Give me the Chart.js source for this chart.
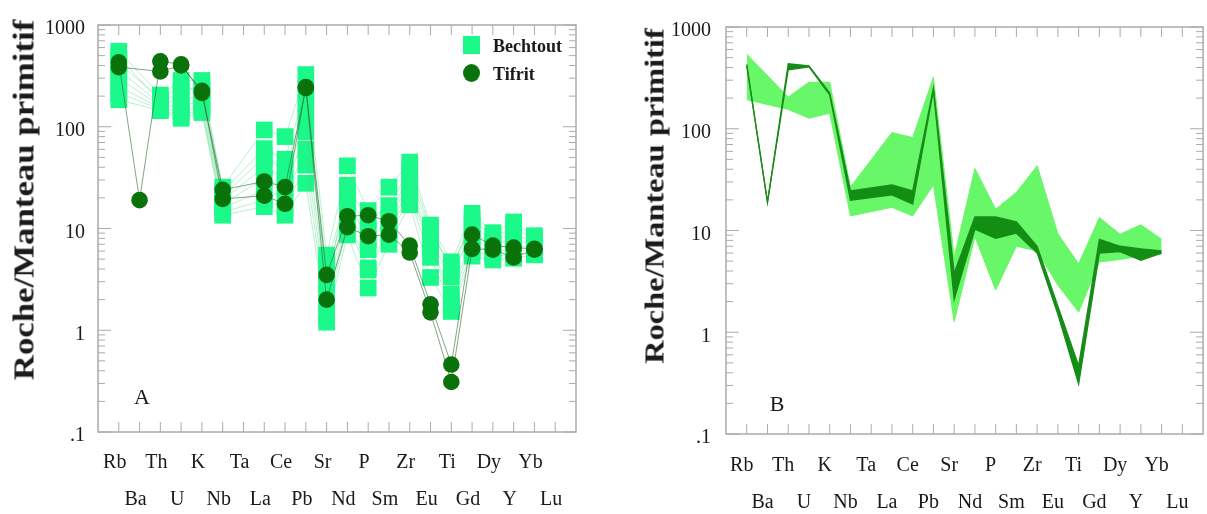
<!DOCTYPE html>
<html>
<head>
<meta charset="utf-8">
<script src="https://cdn.jsdelivr.net/npm/chart.js@4.4.1/dist/chart.umd.min.js"></script>
<style>
  body { margin: 0; background: #fff; overflow: hidden; }
  #wrap { position: relative; width: 1207px; height: 514px; background: #fff; font-family: 'Liberation Serif', 'Times New Roman', serif; color: #1a1a1a; }
  .panel { position: absolute; top: 0; height: 514px; }
  .ytitle { position: absolute; white-space: nowrap; font-weight: bold; transform-origin: center center; }
  .letter { position: absolute; font-size: 22px; transform: translate(-50%, -50%); }
  .legend-text { position: absolute; font-size: 18px; font-weight: bold; transform: translateY(-50%); }
</style>
</head>
<body>
<div id="wrap">
  <div class="panel" style="left:0;width:600px"><canvas id="chartA"></canvas></div>
  <div class="panel" style="left:620px;width:587px"><canvas id="chartB"></canvas></div>

  <div class="ytitle" style="left:24px;top:200px;font-size:29px;transform:translate(-50%,-50%) rotate(-90deg) scaleX(1.2)">Roche/Manteau primitif</div>
  <div class="ytitle" style="left:655px;top:196px;font-size:27px;transform:translate(-50%,-50%) rotate(-90deg) scaleX(1.2)">Roche/Manteau primitif</div>

  <div class="letter" style="left:142px;top:397px">A</div>
  <div class="letter" style="left:777px;top:404px">B</div>

  <div style="position:absolute;left:463px;top:36px;width:17px;height:18px;background:#1bf98b"></div>
  <div class="legend-text" style="left:493px;top:46px">Bechtout</div>
  <div style="position:absolute;left:463px;top:64px;width:17px;height:18px;border-radius:50%;background:#0a720a"></div>
  <div class="legend-text" style="left:493px;top:74px">Tifrit</div>
</div>

<script>
// Elements (spider diagram order) and axis ticks
const elements = ['Rb', 'Ba', 'Th', 'U', 'K', 'Nb', 'Ta', 'La', 'Ce', 'Pb', 'Sr', 'Nd', 'P', 'Sm', 'Zr', 'Eu', 'Ti', 'Gd', 'Dy', 'Y', 'Yb', 'Lu'];
const yTickValues = [0.1, 1, 10, 100, 1000];
const yTickLabels = ['.1', '1', '10', '100', '1000'];

// Panel A - Bechtout samples
const bechtout1 = [552, null, 205, 285, 285, 25.5, null, 93, 80, 326, 5.46, 41.3, 15, 25.5, 45, 10.8, 4.7, 14.1, 9.1, 11.6, 8.5, null];
const bechtout2 = [480, null, 178, 215, 255, 23, null, 61, 48, 235, 2.83, 26.6, 12.1, 16.8, 38, 10.0, 3.9, 12.3, 8.3, 10.1, 7.9, null];
const bechtout3 = [420, null, 190, 250, 225, 21, null, 50, 38.5, 169, 4.39, 22.2, 9.6, 13.5, 33, 9.1, 4.3, 10.8, 7.6, 8.9, 7.3, null];
const bechtout4 = [360, null, 168, 185, 200, 19, null, 40.5, 31, 122, 3.52, 18.7, 7.8, 12.1, 28, 7.6, 3.35, 9.4, 6.9, 7.9, 6.8, null];
const bechtout5 = [300, null, 160, 160, 180, 17.5, null, 31, 24.9, 89, 2.27, 15.6, 6.2, 10.8, 25, 6.8, 2.27, 8.2, 6.3, 7.0, 6.3, null];
const bechtout6 = [250, null, 152, 140, 160, 16, null, 23.8, 19.9, 60, 1.82, 12.9, 4.1, 9.7, 22, 6.3, 2.0, 7.1, 5.8, 6.2, 5.9, null];
const bechtout7 = [215, null, 148, 128, 148, 14.5, null, 19, 15.9, 42, 1.46, 10.6, 3.9, 8.7, 19.5, 5.2, 1.75, 6.1, 5.3, 5.6, 5.6, null];
const bechtout8 = [184, null, 144, 121, 138, 13.5, null, 16.4, 13.5, 27.8, 1.2, 8.66, 2.6, 7.0, 17.1, 3.3, 1.53, 5.35, 4.9, 5.1, 5.5, null];

// Panel A - Tifrit samples
const tifrit1 = [430, 19, 440, 410, 215, 24, null, 29, 25.5, 240, 3.5, 13.2, 13.5, 11.8, 6.8, 1.8, 0.46, 8.7, 6.8, 6.5, 6.3, null];
const tifrit2 = [385, null, 350, 400, 225, 19.5, null, 21, 17.5, 245, 2.0, 10.3, 8.4, 8.7, 5.8, 1.5, 0.31, 6.3, 6.2, 5.2, 6.2, null];

// Panel B - envelopes (max / min)
const bechtoutMax = [541, null, 205, 287, 287, 26.8, null, 91.7, 82, 320, 5.5, 40.7, 16.2, 23.7, 43.3, 9.3, 4.7, 13.4, 9.2, 11.4, 8.2, null];
const bechtoutMin = [193, null, 155, 127, 142, 13.9, null, 16.9, 13.9, 28, 1.27, 8.7, 2.6, 7.0, 6.3, 2.9, 1.58, 4.9, 5.2, 5.6, 5.9, null];
const tifritMax = [430, 19, 435, 415, 225, 24.5, null, 28, 24.5, 250, 3.8, 13.6, 13.6, 12.2, 7.0, 1.8, 0.47, 8.2, 7.0, 6.6, 6.3, null];
const tifritMin = [415, 19, 380, 405, 215, 19.8, null, 22.4, 18.2, 240, 2.1, 10.3, 8.4, 9.4, 6.0, 1.5, 0.31, 6.0, 6.2, 5.1, 6.0, null];

const BECHTOUT = '#1bf98b';
const TIFRIT = '#0a720a';
const SERIF = "'Liberation Serif', 'Times New Roman', serif";

function toPoints(values) {
    return values.map((v, i) => ({ x: i, y: v })).filter(p => p.y !== null);
}

// frame with inward ticks on all four sides
const framePlugin = {
    id: 'frame',
    beforeDatasetsDraw(chart) {
        const { ctx, chartArea: a, scales: { x, y } } = chart;
        ctx.save();
        ctx.strokeStyle = '#ababab';
        ctx.lineWidth = 1.5;
        ctx.strokeRect(a.left, a.top, a.right - a.left, a.bottom - a.top);
        ctx.lineWidth = 1;
        ctx.beginPath();
        elements.forEach((e, i) => {
            const px = x.getPixelForValue(i);
            ctx.moveTo(px, a.bottom); ctx.lineTo(px, a.bottom - 10);
            ctx.moveTo(px, a.top); ctx.lineTo(px, a.top + 10);
        });
        yTickValues.forEach(d => {
            for (let m = 1; m <= 9; m++) {
                const v = d * m;
                if (v > 1000) break;
                const py = y.getPixelForValue(v);
                const len = m === 1 ? 13 : 7;
                ctx.moveTo(a.left, py); ctx.lineTo(a.left + len, py);
                ctx.moveTo(a.right, py); ctx.lineTo(a.right - len, py);
            }
        });
        ctx.stroke();
        ctx.restore();
    }
};

function makeScales(axisWidth, axisHeight, xPad, yPad, xShift) {
    return {
        x: {
            type: 'linear',
            min: -1,
            max: 22,
            afterBuildTicks: (s) => { s.ticks = elements.map((e, i) => ({ value: i })); },
            afterFit: (s) => { s.height = axisHeight; },
            grid: { display: false, drawTicks: false },
            border: { display: false },
            ticks: {
                autoSkip: false,
                maxRotation: 0,
                minRotation: 0,
                padding: xPad,
                labelOffset: xShift,
                color: '#1a1a1a',
                font: { family: SERIF, size: 20, lineHeight: 1.85 },
                callback: (v) => {
                    const name = elements[v];
                    if (!name) return '';
                    return v % 2 === 0 ? [name, ''] : ['', name];
                }
            }
        },
        y: {
            type: 'logarithmic',
            min: 0.1,
            max: 1000,
            afterBuildTicks: (s) => { s.ticks = yTickValues.map(v => ({ value: v })); },
            afterFit: (s) => { s.width = axisWidth; },
            grid: { display: false, drawTicks: false },
            border: { display: false },
            ticks: {
                padding: yPad,
                labelOffset: 4,
                color: '#1a1a1a',
                font: { family: SERIF, size: 20 },
                callback: (v, i) => yTickLabels[i]
            }
        }
    };
}

function bechtoutSet(values) {
    return {
        data: toPoints(values),
        borderColor: 'rgba(70, 215, 130, 0.55)',
        borderWidth: 0.7,
        pointStyle: 'rect',
        pointRadius: 11.8,
        pointBackgroundColor: BECHTOUT,
        pointBorderWidth: 0,
        order: 2
    };
}

function tifritSet(values) {
    return {
        data: toPoints(values),
        borderColor: 'rgba(45, 105, 45, 0.75)',
        borderWidth: 0.8,
        pointStyle: 'circle',
        pointRadius: 8.3,
        pointBackgroundColor: TIFRIT,
        pointBorderWidth: 0,
        order: 1
    };
}

function initChartA() {
    const ctx = document.getElementById('chartA');
    const bechtout = [bechtout1, bechtout2, bechtout3, bechtout4, bechtout5, bechtout6, bechtout7, bechtout8];
    new Chart(ctx, {
        type: 'line',
        data: {
            datasets: [
                ...bechtout.map(bechtoutSet),
                tifritSet(tifrit1),
                tifritSet(tifrit2)
            ]
        },
        options: {
            responsive: true,
            maintainAspectRatio: false,
            animation: false,
            events: [],
            layout: { padding: { left: 0, top: 15, right: 24, bottom: 0 } },
            plugins: { legend: { display: false }, tooltip: { enabled: false } },
            scales: makeScales(98, 82, 12.5, 13, -4)
        },
        plugins: [framePlugin]
    });
}

function initChartB() {
    const ctx = document.getElementById('chartB');
    new Chart(ctx, {
        type: 'line',
        data: {
            datasets: [
                { data: toPoints(bechtoutMax), borderColor: '#68f768', backgroundColor: '#68f768', borderWidth: 1, pointRadius: 0, fill: '+1', order: 2 },
                { data: toPoints(bechtoutMin), borderColor: '#68f768', backgroundColor: '#68f768', borderWidth: 1, pointRadius: 0, fill: false, order: 2 },
                { data: toPoints(tifritMax), borderColor: '#1c8a1c', backgroundColor: '#128f12', borderWidth: 1.3, pointRadius: 0, fill: '+1', order: 1 },
                { data: toPoints(tifritMin), borderColor: '#1c8a1c', backgroundColor: '#128f12', borderWidth: 1.3, pointRadius: 0, fill: false, order: 1 }
            ]
        },
        options: {
            responsive: true,
            maintainAspectRatio: false,
            animation: false,
            events: [],
            layout: { padding: { left: 0, top: 14, right: 1, bottom: 0 } },
            plugins: { legend: { display: false }, tooltip: { enabled: false } },
            scales: makeScales(106, 80, 13.5, 15, -5)
        },
        plugins: [framePlugin]
    });
}

initChartA();
initChartB();
</script>
</body>
</html>
